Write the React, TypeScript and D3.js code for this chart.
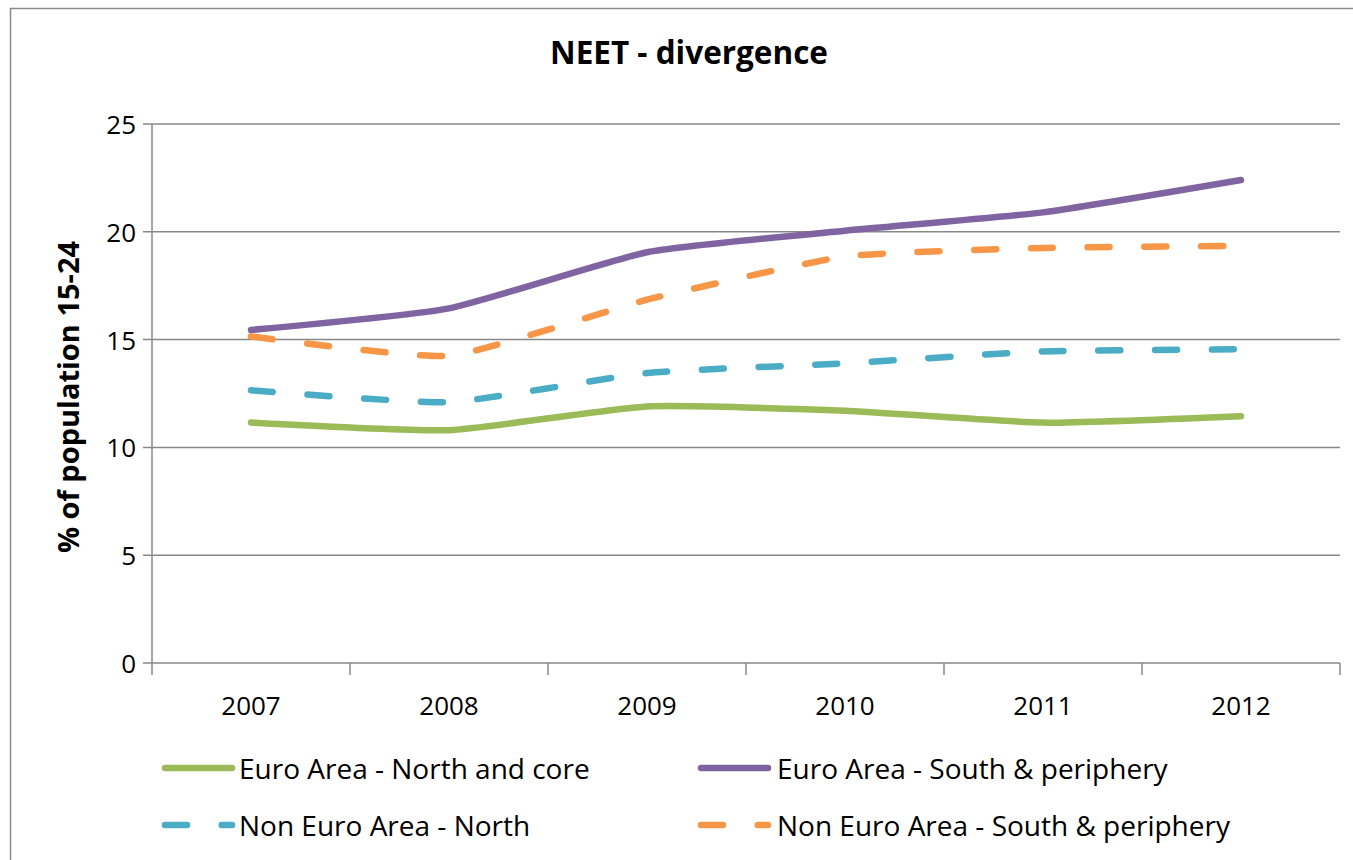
import React from "react";
import * as d3 from "d3";

const years = ["2007", "2008", "2009", "2010", "2011", "2012"];
const euroNorth = [11.15, 10.8, 11.9, 11.7, 11.15, 11.45];
const euroSouth = [15.45, 16.45, 19.05, 20.05, 20.9, 22.4];
const nonEuroNorth = [12.65, 12.1, 13.45, 13.9, 14.45, 14.55];
const nonEuroSouth = [15.15, 14.25, 16.85, 18.85, 19.25, 19.35];
const yTicks = [0, 5, 10, 15, 20, 25];

const seriesNames = [
  "Euro Area - North and core",
  "Euro Area - South & periphery",
  "Non Euro Area - North",
  "Non Euro Area - South & periphery",
];
const seriesColors = ["#9BBB59", "#8064A2", "#4BACC6", "#F79646"];
const seriesDashed = [false, false, true, true];
const seriesValues = [euroNorth, euroSouth, nonEuroNorth, nonEuroSouth];

const FONT = "'Open Sans', Lato, sans-serif";

export default function App() {
  const left = 152, right = 1340, top = 124, bottom = 663;
  const x = d3.scaleBand<string>().domain(years).range([left, right]);
  const y = d3.scaleLinear().domain([0, 25]).range([bottom, top]);
  const cx = (d: string) => (x(d) as number) + x.bandwidth() / 2;
  const line = d3
    .line<number>()
    .x((_, i) => cx(years[i]))
    .y((v) => y(v))
    .curve(d3.curveCardinal.tension(0.5));
  const dash = "22 34.7";
  const legendPos = [
    { lx: 162, tx: 239, ty: 768 },
    { lx: 698, tx: 777, ty: 768 },
    { lx: 162, tx: 239, ty: 825 },
    { lx: 698, tx: 777, ty: 825 },
  ];
  const boundaries = years.map((yr) => x(yr) as number).concat([right]);
  return (
    <svg width={1353} height={860} style={{ position: "absolute", left: 0, top: 0 }}>
      <rect x={0} y={0} width={1353} height={860} fill="#fff" />
      <rect x={10.5} y={8.5} width={1360} height={900} fill="none" stroke="#8c8c8c" strokeWidth={1.5} />
      <text x={689} y={51} textAnchor="middle" dominantBaseline="central" fontFamily={FONT} fontWeight="bold" fontSize={31.5} fill="#000">
        NEET - divergence
      </text>
      {yTicks.map((t) => (
        <g key={t}>
          <line x1={143} x2={right} y1={y(t)} y2={y(t)} stroke="#888" strokeWidth={1.5} />
          <text x={136} y={y(t)} textAnchor="end" dominantBaseline="central" fontFamily={FONT} fontSize={26} fill="#000">
            {t}
          </text>
        </g>
      ))}
      <line x1={left} x2={left} y1={top} y2={bottom} stroke="#888" strokeWidth={1.5} />
      {boundaries.map((b, i) => (
        <line key={i} x1={b} x2={b} y1={bottom} y2={675} stroke="#888" strokeWidth={1.5} />
      ))}
      {years.map((yr) => (
        <text key={yr} x={cx(yr)} y={705} textAnchor="middle" dominantBaseline="central" fontFamily={FONT} fontSize={26} fill="#000">
          {yr}
        </text>
      ))}
      <text
        transform={`translate(67, 397) rotate(-90)`}
        textAnchor="middle"
        dominantBaseline="central"
        fontFamily={FONT}
        fontWeight="bold"
        fontSize={29}
        fill="#000"
      >
        % of population 15-24
      </text>
      {seriesValues.map((vals, i) => (
        <path
          key={i}
          d={line(vals) as string}
          fill="none"
          stroke={seriesColors[i]}
          strokeWidth={6.5}
          strokeLinecap="round"
          strokeLinejoin="round"
          strokeDasharray={seriesDashed[i] ? dash : undefined}
        />
      ))}
      {seriesNames.map((name, i) => {
        const p = legendPos[i];
        return (
          <g key={name}>
            <line
              x1={p.lx + 3}
              x2={p.lx + 70}
              y1={p.ty}
              y2={p.ty}
              stroke={seriesColors[i]}
              strokeWidth={6.5}
              strokeLinecap="round"
              strokeDasharray={seriesDashed[i] ? dash : undefined}
            />
            <text x={p.tx} y={p.ty} dominantBaseline="central" fontFamily={FONT} fontSize={28} fill="#000">
              {name}
            </text>
          </g>
        );
      })}
    </svg>
  );
}
